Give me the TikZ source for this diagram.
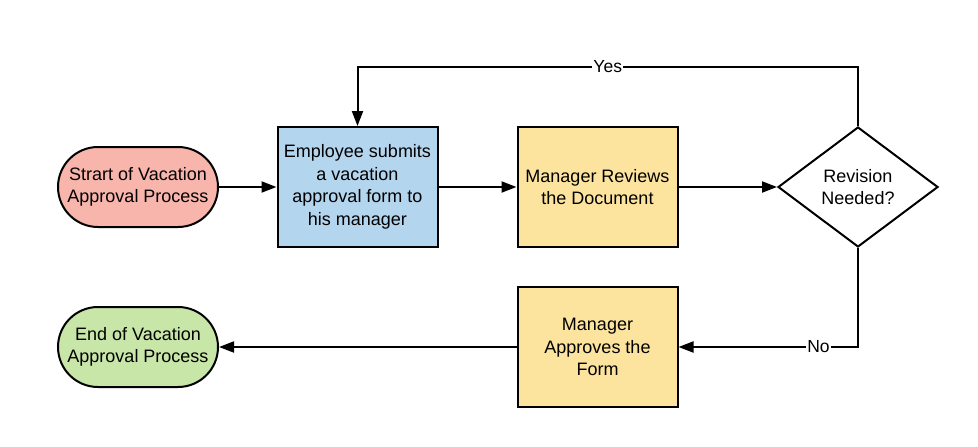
\documentclass[tikz,border=0pt]{standalone}
\usepackage{fontspec}
\setmainfont{Liberation Sans}
\usetikzlibrary{arrows.meta,shapes.geometric}
\definecolor{startred}{HTML}{F8B5AC}
\definecolor{stepblue}{HTML}{B4D5EE}
\definecolor{stepyellow}{HTML}{FCE49F}
\definecolor{endgreen}{HTML}{C7E6A8}
\begin{document}
\begin{tikzpicture}[x=1pt,y=-1pt,
  every node/.style={font=\fontsize{18}{22.5}\selectfont, align=center},
  terminal/.style={draw=black, line width=2pt, rounded corners=40pt, minimum width=160pt, minimum height=80pt, inner sep=0pt},
  stepbox/.style={draw=black, line width=2pt, minimum width=160pt, minimum height=120pt, inner sep=0pt},
  decision/.style={draw=black, line width=2pt, diamond, aspect=1.333, minimum width=160pt, minimum height=120pt, inner sep=0pt, fill=white},
  conn/.style={draw=black, line width=2pt, -{Triangle[length=15pt,width=11pt]}},
  lbl/.style={fill=white, inner sep=1pt, font=\fontsize{17.5}{20}\selectfont}
]
\useasboundingbox (0,0) rectangle (978,447);
\node[terminal, fill=startred] (start) at (138,187) {Strart of Vacation\\Approval Process};
\node[stepbox, fill=stepblue] (emp) at (357.5,187) {Employee submits\\a vacation\\approval form to\\his manager};
\node[stepbox, fill=stepyellow] (rev) at (597.5,187) {Manager Reviews\\the Document};
\node[decision] (dia) at (858,187) {Revision\\Needed?};
\node[stepbox, fill=stepyellow] (app) at (597.5,347) {Manager\\Approves the\\Form};
\node[terminal, fill=endgreen] (end) at (138,347) {End of Vacation\\Approval Process};
\coordinate (ytop) at (858,67);
\draw[conn] (start) -- (emp);
\draw[conn] (emp) -- (rev);
\draw[conn] (rev) -- (dia);
\draw[conn] (dia.north) -- (ytop) -| node[lbl, pos=0.25] {Yes} (emp.north);
\draw[conn] (dia.south) |- node[lbl, pos=0.61] {No} (app.east);
\draw[conn] (app) -- (end);
\end{tikzpicture}
\end{document}
